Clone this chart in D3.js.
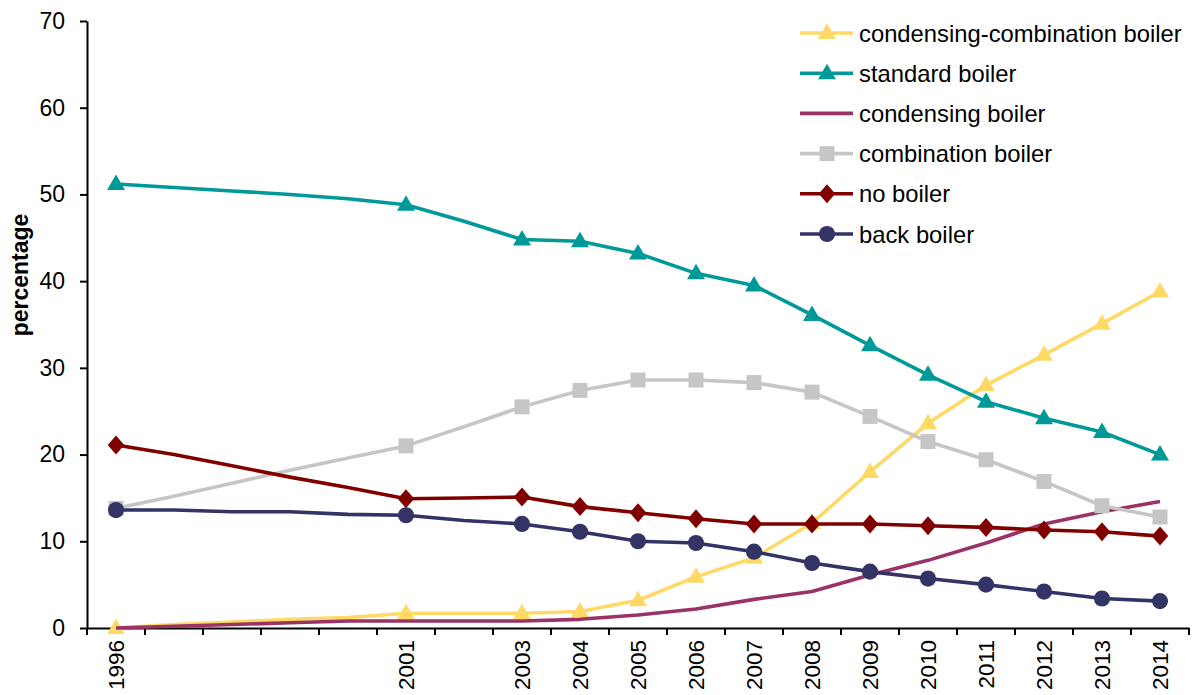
<!DOCTYPE html>
<html>
<head>
<meta charset="utf-8">
<script src="https://cdn.jsdelivr.net/npm/d3@7/dist/d3.min.js"></script>
<style>
  html, body { margin: 0; padding: 0; background: #fff; }
  svg { display: block; font-family: "Liberation Sans", Arial, sans-serif; }
</style>
</head>
<body>
<svg id="chart" width="1200" height="695"></svg>
<script>
// Survey years (one category per year); only some years carry a label and markers
const years = ["1996","1997","1998","1999","2000","2001","2002","2003","2004","2005",
               "2006","2007","2008","2009","2010","2011","2012","2013","2014"];
const markedYears = ["1996","2001","2003","2004","2005","2006","2007","2008",
                     "2009","2010","2011","2012","2013","2014"];
const yTicks = [0, 10, 20, 30, 40, 50, 60, 70];

// Share of dwellings by boiler type (%)
const condensingCombination = [0.0, 0.4, 0.7, 1.0, 1.2, 1.7, 1.7, 1.7, 1.9, 3.2, 5.9, 8.1, 12.1, 18.0, 23.6, 28.0, 31.5, 35.1, 38.8];
const standardBoiler        = [51.2, 50.8, 50.4, 50.0, 49.5, 48.8, 46.9, 44.8, 44.6, 43.2, 40.9, 39.5, 36.1, 32.6, 29.2, 26.1, 24.2, 22.6, 20.0];
const condensingBoiler      = [0.0, 0.2, 0.4, 0.6, 0.8, 0.8, 0.8, 0.8, 1.0, 1.5, 2.2, 3.3, 4.2, 6.1, 7.8, 9.8, 12.0, 13.4, 14.6];
const combinationBoiler     = [13.8, 15.2, 16.7, 18.2, 19.6, 21.0, 23.2, 25.5, 27.4, 28.6, 28.6, 28.3, 27.2, 24.4, 21.5, 19.4, 16.9, 14.1, 12.8];
const noBoiler              = [21.1, 20.0, 18.7, 17.4, 16.2, 14.9, 15.0, 15.1, 14.0, 13.3, 12.6, 12.0, 12.0, 12.0, 11.8, 11.6, 11.3, 11.1, 10.6];
const backBoiler            = [13.6, 13.6, 13.4, 13.4, 13.1, 13.0, 12.4, 12.0, 11.1, 10.0, 9.8, 8.8, 7.5, 6.5, 5.7, 5.0, 4.2, 3.4, 3.1];

const seriesNames = ["condensing-combination boiler", "standard boiler", "condensing boiler",
                     "combination boiler", "no boiler", "back boiler"];
const seriesValues = [condensingCombination, standardBoiler, condensingBoiler,
                      combinationBoiler, noBoiler, backBoiler];
const seriesColors = ["#FFD966", "#009999", "#993366", "#C6C6C6", "#800000", "#333366"];
const seriesMarkers = ["triangle", "triangle", null, "square", "diamond", "circle"];

const svg = d3.select("#chart");
const plotLeft = 87, plotRight = 1189, plotTop = 21, plotBottom = 628;
const fontFamily = "Liberation Sans, Arial, sans-serif";

const x = d3.scaleBand().domain(years).range([plotLeft, plotRight]).padding(0);
const y = d3.scaleLinear().domain([0, 70]).range([plotBottom, plotTop]);
const cx = d => x(d) + x.bandwidth() / 2;

// Y axis
const yAxis = svg.append("g")
  .attr("transform", `translate(${plotLeft},0)`)
  .call(d3.axisLeft(y).tickValues(yTicks).tickSize(7).tickPadding(15).tickSizeOuter(0));
yAxis.attr("font-size", null).attr("font-family", null);
yAxis.select(".domain").attr("stroke", "#000").attr("stroke-width", 2);
yAxis.selectAll(".tick line").attr("stroke", "#000").attr("stroke-width", 2);
yAxis.selectAll(".tick text")
  .style("font-size", "23px").style("font-family", fontFamily).attr("fill", "#000");

svg.append("text")
  .attr("transform", "translate(28,275) rotate(-90)")
  .attr("text-anchor", "middle")
  .style("font-size", "23px").style("font-weight", "bold").style("font-family", fontFamily)
  .attr("fill", "#000")
  .text("percentage");

// X axis: tick marks sit on category boundaries, labels at category centres
const xAxis = svg.append("g")
  .attr("transform", `translate(0,${plotBottom})`)
  .call(d3.axisBottom(x).tickSize(0).tickPadding(0)
    .tickFormat(d => markedYears.includes(d) ? d : ""));
xAxis.attr("font-size", null).attr("font-family", null);
xAxis.select(".domain").attr("stroke", "#000").attr("stroke-width", 2);
xAxis.selectAll(".tick text")
  .style("font-size", "22.5px").style("font-family", fontFamily).attr("fill", "#000")
  .attr("text-anchor", "end")
  .attr("dy", "0.36em")
  .attr("transform", "translate(0,12) rotate(-90)")
  .attr("x", 0).attr("y", 0);

const boundaries = years.map(d => x(d)).concat([x(years[years.length - 1]) + x.bandwidth()]);
xAxis.selectAll(".bound").data(boundaries).enter().append("line")
  .attr("class", "bound")
  .attr("x1", d => d).attr("x2", d => d)
  .attr("y1", 0).attr("y2", 7)
  .attr("stroke", "#000").attr("stroke-width", 2);

// Marker shapes
function markerPath(type) {
  if (type === "triangle") return "M0,-9.5L9,6L-9,6Z";
  if (type === "square") return "M-7.5,-7.5H7.5V7.5H-7.5Z";
  if (type === "diamond") return "M0,-9.5L8.3,0L0,9.5L-8.3,0Z";
  if (type === "circle") return d3.symbol().type(d3.symbolCircle).size(205)();
  return null;
}

const line = d3.line().x(d => cx(d.year)).y(d => y(d.value));

seriesValues.forEach((vals, i) => {
  const pts = years.map((yr, j) => ({ year: yr, value: vals[j] }));
  const g = svg.append("g");
  g.append("path")
    .datum(pts)
    .attr("fill", "none")
    .attr("stroke", seriesColors[i])
    .attr("stroke-width", 3.6)
    .attr("stroke-linejoin", "round")
    .attr("d", line);
  const mp = markerPath(seriesMarkers[i]);
  if (mp) {
    g.selectAll("path.mk")
      .data(pts.filter(p => markedYears.includes(p.year)))
      .enter().append("path")
      .attr("class", "mk")
      .attr("d", mp)
      .attr("fill", seriesColors[i])
      .attr("transform", p => `translate(${cx(p.year)},${y(p.value)})`);
  }
});

// Legend
const legend = svg.append("g").attr("transform", "translate(800,33)");
seriesNames.forEach((name, i) => {
  const row = legend.append("g").attr("transform", `translate(0,${i * 40.2})`);
  row.append("line")
    .attr("x1", 0).attr("x2", 53).attr("y1", 0).attr("y2", 0)
    .attr("stroke", seriesColors[i]).attr("stroke-width", 3.6);
  const mp = markerPath(seriesMarkers[i]);
  if (mp) {
    row.append("path").attr("d", mp).attr("fill", seriesColors[i])
      .attr("transform", "translate(27,0)");
  }
  row.append("text")
    .attr("x", 59).attr("y", 0).attr("dy", "0.36em")
    .style("font-size", "23.8px").style("font-family", fontFamily).attr("fill", "#000")
    .text(name);
});
</script>
</body>
</html>
